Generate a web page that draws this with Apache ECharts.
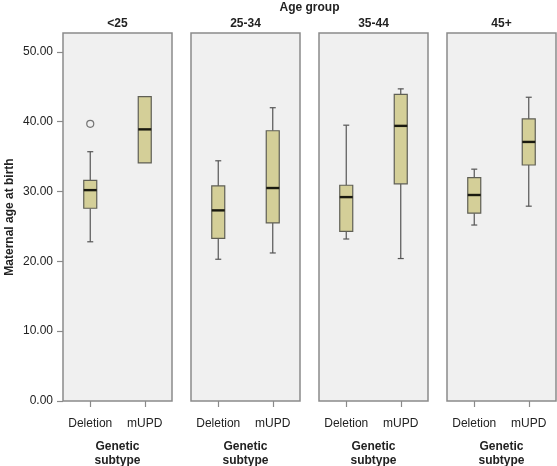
<!DOCTYPE html>
<html>
<head>
<meta charset="utf-8">
<script src="https://cdn.jsdelivr.net/npm/echarts@6/dist/echarts.min.js"></script>
<style>
html,body{margin:0;padding:0;background:#fff;}
#chart{width:557px;height:466px;}
</style>
</head>
<body>
<div id="chart"></div>
<script>
// ---- data ----
const groups = ['<25', '25-34', '35-44', '45+'];
const subtypes = ['Deletion', 'mUPD'];
// each row: [min, q1, median, q3, max]
const deletionStats = [
  [22.8, 27.6, 30.2, 31.6, 35.7],
  [20.3, 23.3, 27.3, 30.8, 34.4],
  [23.2, 24.3, 29.2, 30.9, 39.5],
  [25.2, 26.9, 29.5, 32.0, 33.2]
];
const mupdStats = [
  [34.1, 34.1, 38.9, 43.6, 43.6],
  [21.2, 25.5, 30.5, 38.7, 42.0],
  [20.4, 31.1, 39.4, 43.9, 44.7],
  [27.9, 33.8, 37.1, 40.4, 43.5]
];
const outlierGroup = [0];
const outlierSubtype = [0];
const outlierValue = [39.7];
const yTicks = [0, 10, 20, 30, 40, 50];

// ---- layout ----
const gridLefts = [63, 191, 319, 447];
const gridWidth = 109;
const gridTop = 33;
const gridBottom = 65;
const FONT = 'Liberation Sans, Arial, Helvetica, sans-serif';

const chart = echarts.init(document.getElementById('chart'));

const grids = [], xAxes = [], yAxes = [], series = [], graphics = [];

groups.forEach((g, i) => {
  grids.push({
    left: gridLefts[i], top: gridTop, width: gridWidth, bottom: gridBottom,
    containLabel: false, outerBoundsMode: 'none',
    show: true, backgroundColor: '#f0f0f0', borderColor: '#8a8a8a', borderWidth: 1.5
  });
  xAxes.push({
    type: 'category', gridIndex: i, data: subtypes,
    axisLine: { show: false },
    axisTick: { show: true, alignWithLabel: true, interval: 0, length: 6, lineStyle: { color: '#8a8a8a', width: 1.2 } },
    axisLabel: { interval: 0, margin: 17, fontFamily: FONT, fontSize: 12, color: '#222' },
    name: 'Genetic\nsubtype', nameLocation: 'middle', nameGap: 39,
    nameTextStyle: { fontFamily: FONT, fontSize: 12, fontWeight: 'bold', color: '#222', lineHeight: 14, verticalAlign: 'top' },
    splitLine: { show: false }
  });
  yAxes.push({
    type: 'value', gridIndex: i, min: 0, max: 52.7,
    axisLine: { show: false },
    axisTick: { show: i === 0, length: 6, customValues: yTicks, lineStyle: { color: '#8a8a8a', width: 1.2 } },
    axisLabel: { show: i === 0, customValues: yTicks, margin: 10, fontFamily: FONT, fontSize: 12, color: '#222',
      formatter: v => v.toFixed(2) },
    splitLine: { show: false },
    name: i === 0 ? 'Maternal age at birth' : '',
    nameLocation: 'middle', nameGap: 47, nameRotate: 90,
    nameTextStyle: { fontFamily: FONT, fontSize: 12, fontWeight: 'bold', color: '#222' }
  });
  const data = [
    [0].concat(deletionStats[i]),
    [1].concat(mupdStats[i])
  ];
  series.push({
    type: 'custom', xAxisIndex: i, yAxisIndex: i, data: data,
    encode: { x: 0, y: [1, 2, 3, 4, 5] },
    renderItem: function (params, api) {
      const xi = api.value(0);
      const pMin = api.coord([xi, api.value(1)]);
      const pQ1 = api.coord([xi, api.value(2)]);
      const pMed = api.coord([xi, api.value(3)]);
      const pQ3 = api.coord([xi, api.value(4)]);
      const pMax = api.coord([xi, api.value(5)]);
      const x = pMin[0];
      const bw = 13, cap = 6;
      const wStyle = { stroke: '#555', lineWidth: 1.2 };
      const children = [];
      if (pMax[1] < pQ3[1] - 0.5) {
        children.push({ type: 'line', shape: { x1: x, y1: pQ3[1], x2: x, y2: pMax[1] }, style: wStyle });
        children.push({ type: 'line', shape: { x1: x - cap / 2, y1: pMax[1], x2: x + cap / 2, y2: pMax[1] }, style: wStyle });
      }
      if (pMin[1] > pQ1[1] + 0.5) {
        children.push({ type: 'line', shape: { x1: x, y1: pQ1[1], x2: x, y2: pMin[1] }, style: wStyle });
        children.push({ type: 'line', shape: { x1: x - cap / 2, y1: pMin[1], x2: x + cap / 2, y2: pMin[1] }, style: wStyle });
      }
      children.push({
        type: 'rect',
        shape: { x: x - bw / 2, y: pQ3[1], width: bw, height: pQ1[1] - pQ3[1] },
        style: { fill: '#d4cf98', stroke: '#5f5f55', lineWidth: 1.2 }
      });
      children.push({
        type: 'line',
        shape: { x1: x - bw / 2, y1: pMed[1], x2: x + bw / 2, y2: pMed[1] },
        style: { stroke: '#1a1a10', lineWidth: 2.4 }
      });
      return { type: 'group', children: children };
    },
    z: 3
  });
  graphics.push({
    type: 'text', x: gridLefts[i] + gridWidth / 2, y: 24,
    style: { text: g, fontFamily: FONT, fontSize: 12, fontWeight: 'bold', fill: '#222', align: 'center', verticalAlign: 'middle' }
  });
});

// outliers
groups.forEach((g, i) => {
  const pts = [];
  outlierGroup.forEach((gi, k) => {
    if (gi === i) pts.push([outlierSubtype[k], outlierValue[k]]);
  });
  if (pts.length) {
    series.push({
      type: 'scatter', xAxisIndex: i, yAxisIndex: i, data: pts,
      symbol: 'circle', symbolSize: 7,
      itemStyle: { color: '#f0f0f0', borderColor: '#555', borderWidth: 1.2 },
      z: 4
    });
  }
});

graphics.push({
  type: 'text', x: (gridLefts[0] + gridLefts[3] + gridWidth) / 2, y: 8,
  style: { text: 'Age group', fontFamily: FONT, fontSize: 12, fontWeight: 'bold', fill: '#222', align: 'center', verticalAlign: 'middle' }
});

chart.setOption({
  animation: false,
  backgroundColor: '#ffffff',
  grid: grids,
  xAxis: xAxes,
  yAxis: yAxes,
  series: series,
  graphic: graphics
});
</script>
</body>
</html>
